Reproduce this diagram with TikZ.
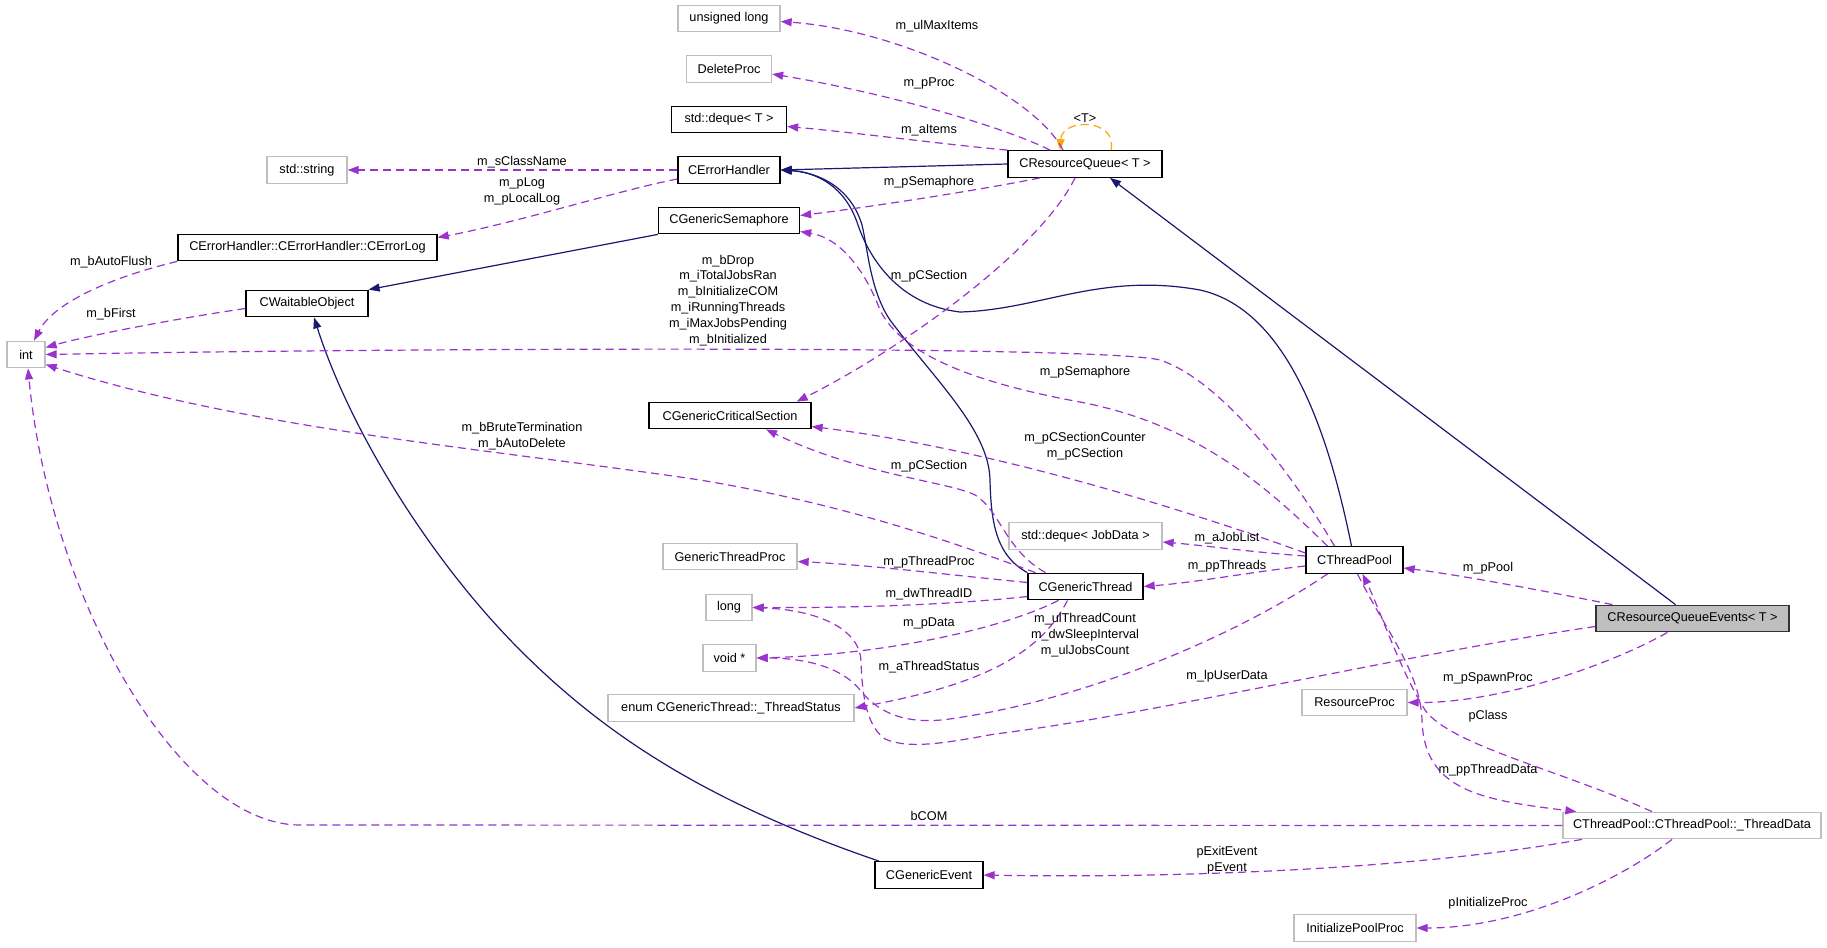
\documentclass[tikz,border=0pt]{standalone}
\usepackage{fontspec}
\setmainfont{Liberation Sans}
\usetikzlibrary{arrows.meta}
\definecolor{usecol}{HTML}{9A32CD}
\definecolor{inhcol}{HTML}{191970}
\definecolor{tplcol}{HTML}{FFA500}
\definecolor{boxgray}{HTML}{BFBFBF}
\begin{document}
\begin{tikzpicture}[x=1pt,y=-1pt,font=\fontsize{12.7pt}{15.9pt}\selectfont,
  cls/.style={rectangle,inner sep=0pt,minimum height=26.5pt,line width=1.3pt,fill=white},
  strongbox/.style={cls,draw=black},
  weakbox/.style={cls,draw=boxgray},
  focusbox/.style={cls,draw=black!80,fill=boxgray},
  usage/.style={usecol,line width=1.2pt,dash pattern=on 8pt off 5pt,-{Triangle[length=11pt,width=8pt]}},
  inherit/.style={inhcol,line width=1.2pt,-{Triangle[length=11pt,width=8pt]}},
  templ/.style={tplcol,line width=1.2pt,dash pattern=on 8pt off 5pt,-{Triangle[length=11pt,width=8pt]}},
  lbl/.style={inner sep=0pt,align=center}]
\useasboundingbox (0,0) rectangle (1827,947);

% nodes
\node[weakbox,minimum width=102pt] (ul) at (729,18.5) {unsigned long};
\node[weakbox,minimum width=85pt] (dp) at (729,69) {DeleteProc};
\node[strongbox,minimum width=115pt] (dq) at (729,119.5) {std::deque< T >};
\node[strongbox,minimum width=102pt] (eh) at (729,170) {CErrorHandler};
\node[weakbox,minimum width=80pt] (ss) at (307,170) {std::string};
\node[strongbox,minimum width=259pt] (el) at (307.5,247.5) {CErrorHandler::CErrorHandler::CErrorLog};
\node[strongbox,minimum width=141pt] (gs) at (729,220.5) {CGenericSemaphore};
\node[strongbox,minimum width=154pt] (crq) at (1085,164) {CResourceQueue< T >};
\node[strongbox,minimum width=122pt] (wo) at (307,303.5) {CWaitableObject};
\node[weakbox,minimum width=38pt] (int) at (26,354.5) {int};
\node[strongbox,minimum width=162pt] (gcs) at (730,415.5) {CGenericCriticalSection};
\node[weakbox,minimum width=153pt] (dqj) at (1085.5,536) {std::deque< JobData >};
\node[weakbox,minimum width=134pt] (gtp) at (730,556.5) {GenericThreadProc};
\node[strongbox,minimum width=115pt] (gt) at (1085.5,586.5) {CGenericThread};
\node[strongbox,minimum width=97pt] (tp) at (1354.5,560) {CThreadPool};
\node[weakbox,minimum width=46pt] (lng) at (729,607.5) {long};
\node[weakbox,minimum width=53pt] (vd) at (729.5,658) {void *};
\node[weakbox,minimum width=246pt] (en) at (731,708) {enum CGenericThread::\_ThreadStatus};
\node[focusbox,minimum width=193pt] (crqe) at (1692.5,618.5) {CResourceQueueEvents< T >};
\node[weakbox,minimum width=105pt] (rp) at (1354.5,702.5) {ResourceProc};
\node[weakbox,minimum width=258pt] (td) at (1692,825.5) {CThreadPool::CThreadPool::\_ThreadData};
\node[strongbox,minimum width=108pt] (ge) at (929,875) {CGenericEvent};
\node[weakbox,minimum width=122pt] (ipp) at (1355,928) {InitializePoolProc};

% inheritance
\draw[inherit] (crq.west) -- (eh.east);
\draw[inherit] (gs.south west) -- (wo.north east);
\draw[inherit] ([xshift=-3pt]tp.north) .. controls (1330,440) and (1290,310) .. (1200,290)
  .. controls (1100,272) and (1040,310) .. (960,312)
  .. controls (900,305) and (870,260) .. (858,225)
  .. controls (845,185) and (815,172) .. (eh.east);
\draw[inherit] (gt.north west) .. controls (995,555) and (991,520) .. (990,480)
  .. controls (989,430) and (935,380) .. (890,320)
  .. controls (870,290) and (868,250) .. (862,225)
  .. controls (850,185) and (815,172) .. (eh.east);
\draw[inherit] ([xshift=-17pt]crqe.north) -- ([xshift=25pt]crq.south);
\draw[inherit] ([xshift=-50pt]ge.north) .. controls (700,800) and (600,730) .. (520,650)
  .. controls (430,560) and (350,430) .. ([xshift=7pt]wo.south);

% template
\draw[templ] ([xshift=26pt]crq.north) .. controls (1118,118) and (1062,118) .. ([xshift=-25pt]crq.north);

% usage
\draw[usage] ([xshift=-22pt]crq.north) .. controls (1035,95) and (900,30) .. ([yshift=-3pt]ul.east);
\draw[usage] ([xshift=-35pt]crq.north) .. controls (1000,125) and (880,92) .. ([yshift=-5pt]dp.east);
\draw[usage] (crq.north west) .. controls (950,145) and (850,132) .. ([yshift=-7pt]dq.east);
\draw[usage] (eh.west) -- (ss.east);
\draw[usage] ([yshift=-9pt]eh.west) .. controls (620,190) and (520,222) .. ([yshift=10pt]el.east);
\draw[usage] ([xshift=-45pt]crq.south) .. controls (980,190) and (870,207) .. ([yshift=5pt]gs.east);
\draw[usage] ([xshift=-10pt]crq.south) .. controls (1040,250) and (900,350) .. ([xshift=-15pt]gcs.north east);
\draw[usage] (el.south west) .. controls (120,275) and (55,300) .. ([xshift=8pt]int.north);
\draw[usage] ([yshift=-5pt]wo.west) .. controls (180,318) and (90,335) .. ([yshift=7pt]int.east);
\draw[usage] ([xshift=-20pt]tp.north) .. controls (1290,470) and (1220,380) .. (1160,360)
  .. controls (1100,345) and (400,348) .. (int.east);
\draw[usage] ([xshift=-27pt]tp.north) .. controls (1270,490) and (1200,425) .. (1080,402)
  .. controls (960,380) and (900,350) .. (880,310)
  .. controls (865,270) and (840,238) .. ([yshift=-11pt]gs.east);
\draw[usage] ([yshift=7pt]tp.west) .. controls (1200,515) and (1000,450) .. ([yshift=-11pt]gcs.east);
\draw[usage] ([xshift=-40pt]gt.north) .. controls (1005,550) and (1000,510) .. (975,495)
  .. controls (950,482) and (860,475) .. ([xshift=36pt]gcs.south);
\draw[usage] ([xshift=-50pt]gt.north) .. controls (960,545) and (850,505) .. (700,480)
  .. controls (500,450) and (250,430) .. ([yshift=-10pt]int.east);
\draw[usage] ([yshift=4pt]tp.west) .. controls (1250,552) and (1210,546) .. ([yshift=-6pt]dqj.east);
\draw[usage] ([yshift=-6pt]tp.west) .. controls (1250,572) and (1200,582) .. (gt.east);
\draw[usage] ([yshift=4pt]gt.west) .. controls (950,575) and (870,565) .. ([yshift=-5pt]gtp.east);
\draw[usage] ([yshift=-10pt]gt.west) .. controls (950,605) and (850,608) .. (lng.east);
\draw[usage] ([xshift=-27pt]gt.south) .. controls (1000,630) and (880,655) .. (vd.east);
\draw[usage] ([xshift=-18pt]gt.south) .. controls (1040,655) and (980,685) .. (en.east);
\draw[usage] ([yshift=-8pt]crqe.west) .. controls (1400,655) and (1150,715) .. (995,734)
  .. controls (950,742) and (910,750) .. (885,739)
  .. controls (865,725) and (862,690) .. (861,661)
  .. controls (860,630) and (820,610) .. (lng.east);
\draw[usage] ([xshift=-27pt]tp.south) .. controls (1230,640) and (1080,700) .. (956,718)
  .. controls (910,726) and (880,715) .. (860,690)
  .. controls (840,665) and (800,658) .. (vd.east);
\draw[usage] ([xshift=-80pt]crqe.north) .. controls (1550,592) and (1460,575) .. ([yshift=-8pt]tp.east);
\draw[usage] ([xshift=-25pt]crqe.south) .. controls (1610,665) and (1500,703) .. (rp.east);
\draw[usage] ([xshift=-40pt]td.north) .. controls (1560,770) and (1450,745) .. (1425,710)
  .. controls (1400,670) and (1380,610) .. ([xshift=8pt]tp.south);
\draw[usage] ([xshift=3pt]tp.south) .. controls (1385,630) and (1420,670) .. (1422,720)
  .. controls (1424,790) and (1480,800) .. ([xshift=14pt]td.north west);
\draw[usage] (td.west) -- (300,825) .. controls (180,825) and (50,600) .. ([xshift=2pt]int.south);
\draw[usage] ([xshift=-110pt]td.south) .. controls (1400,872) and (1150,878) .. (ge.east);
\draw[usage] ([xshift=-20pt]td.south) .. controls (1620,880) and (1520,928) .. (ipp.east);

% labels
\node[lbl] (l1) at (937,26) {m\_ulMaxItems};
\node[lbl] (l2) at (929,83) {m\_pProc};
\node[lbl] (l3) at (929,130) {m\_aItems};
\node[lbl] (l4) at (522,162) {m\_sClassName};
\node[lbl] (l5) at (522,191) {m\_pLog\\m\_pLocalLog};
\node[lbl] (l6) at (929,182) {m\_pSemaphore};
\node[lbl] (l7) at (929,276) {m\_pCSection};
\node[lbl] (l8) at (111,262) {m\_bAutoFlush};
\node[lbl] (l9) at (111,314) {m\_bFirst};
\node[lbl] (l10) at (728,300.5) {m\_bDrop\\m\_iTotalJobsRan\\m\_bInitializeCOM\\m\_iRunningThreads\\m\_iMaxJobsPending\\m\_bInitialized};
\node[lbl] (l11) at (1085,372) {m\_pSemaphore};
\node[lbl] (l12) at (522,436) {m\_bBruteTermination\\m\_bAutoDelete};
\node[lbl] (l13) at (1085,446) {m\_pCSectionCounter\\m\_pCSection};
\node[lbl] (l14) at (929,466) {m\_pCSection};
\node[lbl] (l15) at (1227,538) {m\_aJobList};
\node[lbl] (l16) at (1227,566) {m\_ppThreads};
\node[lbl] (l17) at (929,562) {m\_pThreadProc};
\node[lbl] (l18) at (929,594) {m\_dwThreadID};
\node[lbl] (l19) at (929,623) {m\_pData};
\node[lbl] (l20) at (929,667) {m\_aThreadStatus};
\node[lbl] (l21) at (1085,635) {m\_ulThreadCount\\m\_dwSleepInterval\\m\_ulJobsCount};
\node[lbl] (l22) at (1227,676) {m\_lpUserData};
\node[lbl] (l23) at (1488,568) {m\_pPool};
\node[lbl] (l24) at (1488,678) {m\_pSpawnProc};
\node[lbl] (l25) at (1488,716) {pClass};
\node[lbl] (l26) at (1488,770) {m\_ppThreadData};
\node[lbl] (l27) at (929,816) {bCOM};
\node[lbl] (l28) at (1227,860) {pExitEvent\\pEvent};
\node[lbl] (l29) at (1488,903) {pInitializeProc};
\node[lbl] (l30) at (1085,118) {<T>};
\end{tikzpicture}
\end{document}
